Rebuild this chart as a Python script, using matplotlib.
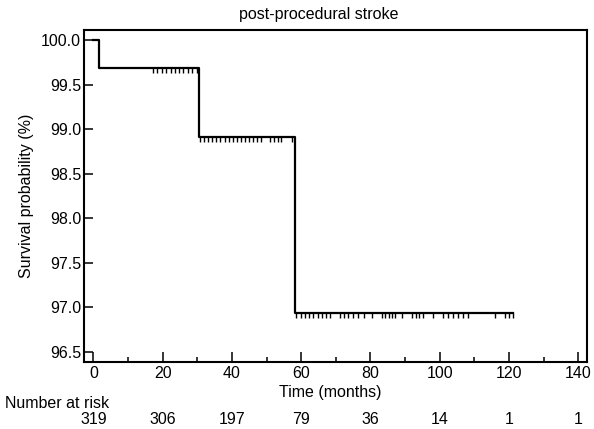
import matplotlib
matplotlib.use("Agg")
import matplotlib.pyplot as plt
from matplotlib.ticker import MultipleLocator, FormatStrFormatter

plt.rcParams['font.family'] = ['Liberation Sans', 'DejaVu Sans']

# Kaplan-Meier ステップ (時間, 生存率 %)
step_times = [0, 1.6, 30.5, 58.2, 121.2]
step_surv = [100.0, 99.69, 98.91, 96.93, 96.93]

# 打ち切り (censor) の時点
censor_lvl1 = [17.3, 18.5, 19.8, 21.0, 22.3, 23.5, 24.8, 26.0, 27.3, 28.5, 29.8]
censor_lvl2 = [30.8, 32.0, 33.2, 34.3, 35.5, 36.7, 37.9, 39.1, 40.3, 41.4, 42.6, 43.8,
               45.0, 46.2, 47.3, 48.5, 51.0, 52.1, 53.2, 54.3, 57.2]
censor_lvl3 = [58.6, 59.8, 61.0, 62.3, 63.5, 64.8, 66.0, 67.2, 68.3, 71.2, 72.4, 73.6,
               75.0, 76.5, 78.0, 80.3, 83.2, 84.2, 85.2, 86.2, 87.1, 89.0, 91.9, 93.0,
               94.1, 95.2, 98.1, 101.0, 102.4, 103.9, 105.3, 106.8, 108.2, 115.9,
               118.8, 120.0, 121.2]

# リスク集合の人数
risk_times = [0, 20, 40, 60, 80, 100, 120, 140]
risk_counts = [319, 306, 197, 79, 36, 14, 1, 1]

fs = 11.5

fig = plt.figure(figsize=(5.94, 4.29), dpi=100)
ax = fig.add_axes([84 / 594, 1 - 362 / 429, 503 / 594, 332 / 429])

ax.step(step_times, step_surv, where='post', color='black', lw=1.6, zorder=3)
for times, lvl in [(censor_lvl1, step_surv[1]), (censor_lvl2, step_surv[2]), (censor_lvl3, step_surv[3])]:
    ax.plot(times, [lvl] * len(times), ls='none', marker=3, ms=3.5, mew=1.0, color='black')

ax.set_xlim(-2.7, 142.5)
ax.set_ylim(96.384, 100.112)
ax.xaxis.set_major_locator(MultipleLocator(20))
ax.xaxis.set_minor_locator(MultipleLocator(10))
ax.yaxis.set_major_locator(MultipleLocator(0.5))
ax.yaxis.set_major_formatter(FormatStrFormatter('%.1f'))

for s in ax.spines.values():
    s.set_linewidth(1.5)
ax.tick_params(axis='x', which='major', direction='in', length=7, width=1.1, labelsize=fs, pad=3)
ax.tick_params(axis='x', which='minor', direction='in', length=3.6, width=1.1)
ax.tick_params(axis='y', which='major', direction='in', length=6.5, width=1.1, labelsize=fs, pad=2)

ax.set_xlabel('Time (months)', fontsize=fs)
ax.xaxis.set_label_coords(0.489, (362 - 393) / 332)
ax.xaxis.label.set_va('center')
ax.set_ylabel('Survival probability (%)', fontsize=fs)
ax.yaxis.set_label_coords(-0.115, 0.5)
ax.yaxis.label.set_va('center')

fig.text(319 / 594, 1 - 15 / 429, 'post-procedural stroke', ha='center', va='center', fontsize=fs)

# Number at risk
fig.text(5 / 594, 1 - 404 / 429, 'Number at risk', ha='left', va='center', fontsize=fs)
for t, n in zip(risk_times, risk_counts):
    xf = fig.transFigure.inverted().transform(ax.transData.transform((t, 0)))[0]
    fig.text(xf, 1 - 420 / 429, str(n), ha='center', va='center', fontsize=fs)

fig.savefig('out.png', dpi=100)
